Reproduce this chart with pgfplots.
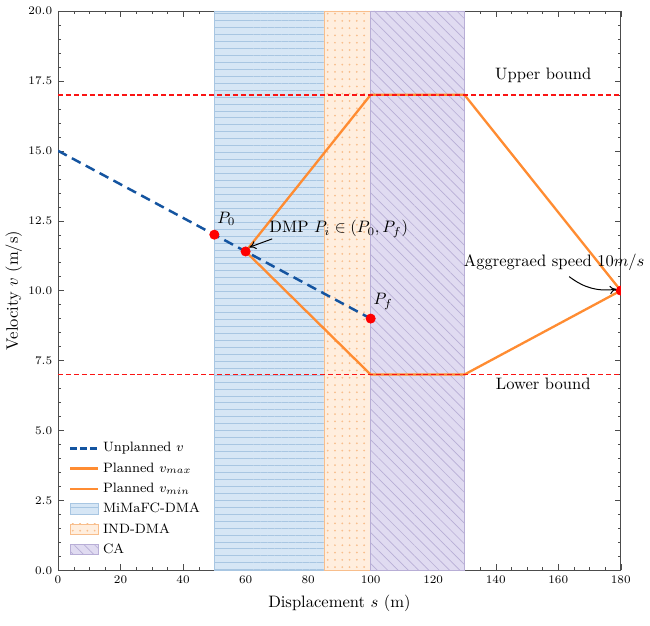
\documentclass[border={0pt 5pt 0pt 1pt}]{standalone}
\usepackage{pgfplots}
\pgfplotsset{compat=1.18}
\usetikzlibrary{patterns.meta, arrows.meta}

\definecolor{dmpblue}{RGB}{20,84,160}
\definecolor{planorange}{RGB}{255,140,50}
\definecolor{boundred}{RGB}{250,20,20}
\definecolor{regblue}{RGB}{214,230,245}
\definecolor{regblueline}{RGB}{168,198,226}
\definecolor{regorange}{RGB}{255,238,222}
\definecolor{regorangedot}{RGB}{248,190,140}
\definecolor{regpurple}{RGB}{224,219,241}
\definecolor{regpurpleline}{RGB}{184,174,214}

\tikzset{
  mimafc/.style={draw=regblueline, line width=0.3pt, fill=regblue,
    postaction={pattern={Lines[angle=0,distance=4.2pt,line width=0.5pt]}, pattern color=regblueline}},
  inddma/.style={draw=regorangedot, line width=0.3pt, fill=regorange,
    postaction={pattern={Dots[angle=0,distance=4.4pt,radius=0.6pt]}, pattern color=regorangedot}},
  careg/.style={draw=regpurpleline, line width=0.3pt, fill=regpurple,
    postaction={pattern={Lines[angle=-45,distance=4.4pt,line width=0.4pt]}, pattern color=regpurpleline}},
}

\begin{document}
\begin{tikzpicture}
\begin{axis}[
    width=340pt, height=338pt, scale only axis,
    clip mode=individual, clip marker paths=true,
    unbounded coords=jump,
    xmin=0, xmax=180, ymin=0, ymax=20,
    xtick={0,20,...,180}, ytick={0,2.5,...,20},
    minor x tick num=3, minor y tick num=4,
    tick align=inside, tick pos=both,
    major tick length=3.6pt, minor tick length=1.8pt,
    tick style={black!70},
    axis line style={black!70},
    ticklabel style={font=\fontsize{7.5}{9}\selectfont},
    yticklabel style={/pgf/number format/.cd, fixed, fixed zerofill, precision=1},
    xlabel={Displacement $s$ (m)},
    ylabel={Velocity $v$ (m/s)},
    ylabel style={yshift=-3pt},
    legend style={at={(0.01,0.013)}, anchor=south west, draw=none, fill=white,
      font=\fontsize{8.2}{9.5}\selectfont, row sep=1pt},
    legend cell align=left,
    legend image code/.code={\draw[#1] (0cm,0cm) -- (0.6cm,0cm);},
]
% regions
\addplot[mimafc, forget plot] coordinates {(50,0) (50,20) (85,20) (85,0)} \closedcycle;
\addplot[inddma, forget plot] coordinates {(85,0) (85,20) (100,20) (100,0)} \closedcycle;
\addplot[careg, forget plot] coordinates {(100,0) (100,20) (130,20) (130,0)} \closedcycle;

% planned speeds
\addplot[color=planorange, line width=1.4pt, forget plot] coordinates {(60,11.4) (100,17) (130,17) (180,10)};
\addplot[color=planorange, line width=1.4pt, forget plot] coordinates {(60,11.4) (100,7) (130,7) (180,10)};

% unplanned speed
\addplot[color=dmpblue, line width=1.5pt, dash pattern=on 6pt off 3.5pt, forget plot] coordinates {(0,15) (100,9)};

% upper and lower bounds
\addplot[color=boundred, line width=0.9pt, dash pattern=on 3pt off 1.8pt, forget plot]
  coordinates {(0,17) (180,17) (nan,nan) (0,7) (180,7)};

% points
\addplot[only marks, mark=*, color=red, mark size=2.8pt, forget plot] coordinates {(50,12) (60,11.4) (100,9) (180,10)};

% legend
\addlegendimage{color=dmpblue, line width=1.5pt, dash pattern=on 4pt off 2pt}
\addlegendentry{Unplanned $v$}
\addlegendimage{color=planorange, line width=1.4pt}
\addlegendentry{Planned $v_{max}$}
\addlegendimage{color=planorange, line width=1.4pt}
\addlegendentry{Planned $v_{min}$}
\addlegendimage{legend image code/.code={\draw[mimafc] (0cm,-0.1cm) rectangle (0.6cm,0.12cm);}}
\addlegendentry{MiMaFC-DMA}
\addlegendimage{legend image code/.code={\draw[inddma] (0cm,-0.1cm) rectangle (0.6cm,0.12cm);}}
\addlegendentry{IND-DMA}
\addlegendimage{legend image code/.code={\draw[careg] (0cm,-0.1cm) rectangle (0.6cm,0.12cm);}}
\addlegendentry{CA}

% annotations
\node at (axis cs:155.2,17.7) {Upper bound};
\node at (axis cs:155.2,6.65) {Lower bound};
\node[anchor=south west, inner sep=1pt] at (axis cs:50.3,12.25) {$P_0$};
\node[anchor=south west, inner sep=1pt] at (axis cs:100.3,9.25) {$P_f$};
\node[anchor=west, inner sep=1pt] at (axis cs:67,12.2) {DMP $P_i \in (P_0, P_f)$};
\draw[-{To[length=4pt,width=5pt]}, line width=0.6pt] (axis cs:68.5,11.85) -- (axis cs:61.2,11.55);
\node at (axis cs:158.7,11.0) {Aggregraed speed 10$m/s$};
\draw[-{To[length=4pt,width=5pt]}, line width=0.6pt] (axis cs:163.5,10.5) to[bend right=22] (axis cs:178.6,10.05);
\end{axis}
\end{tikzpicture}
\end{document}
